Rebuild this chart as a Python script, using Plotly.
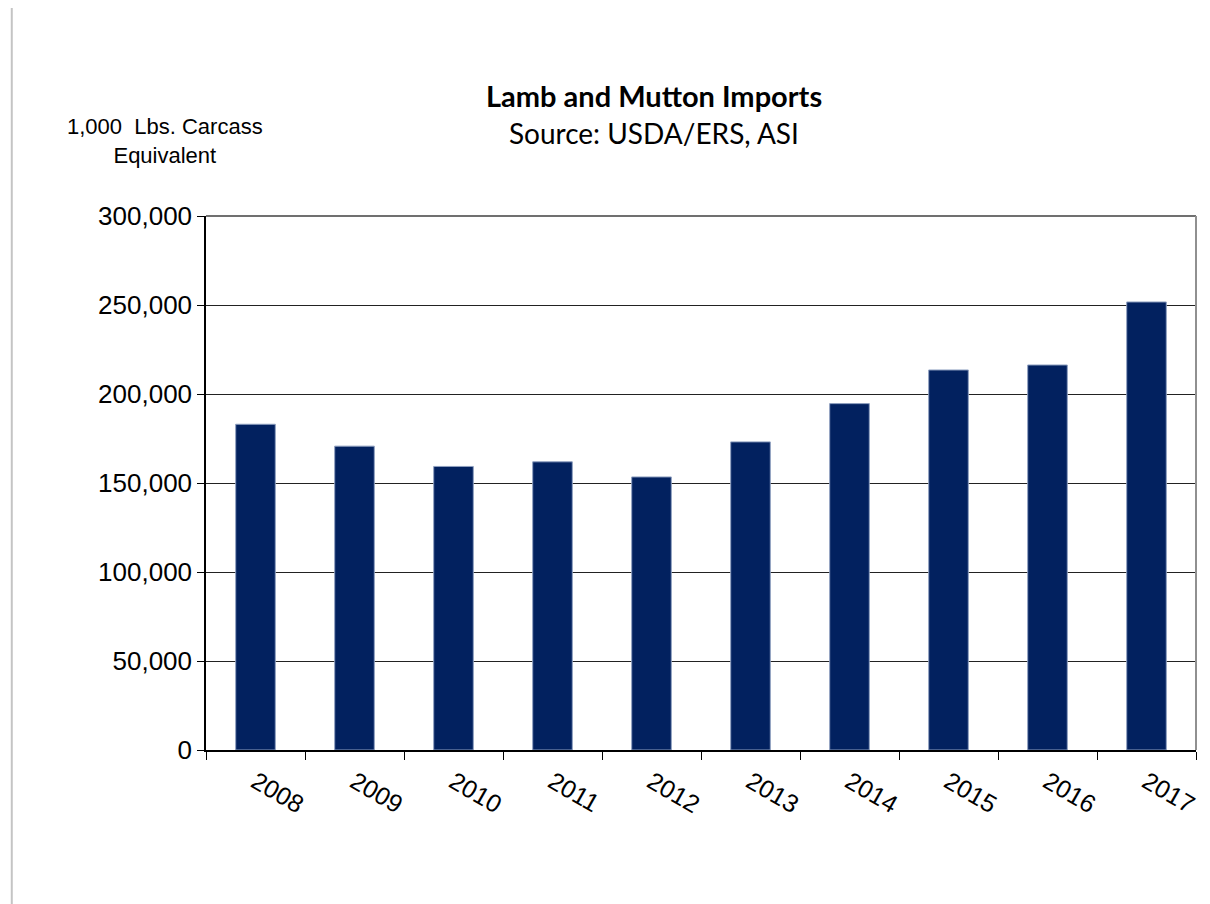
import plotly.graph_objects as go

years = ["2008", "2009", "2010", "2011", "2012", "2013", "2014", "2015", "2016", "2017"]
imports = [183000, 170700, 159300, 161900, 153400, 173100, 194600, 213500, 216300, 251700]
y_ticks = [0, 50000, 100000, 150000, 200000, 250000, 300000]

# page body has an 8px margin, so the figure is placed 8px in from the window edge
OFF = 8
W, H = 1210 - OFF, 904 - OFF
L, R, T, B = 206 - OFF, 10, 216 - OFF, 154
pw, ph = W - L - R, H - T - B


def px_x(x):
    # screen pixel -> paper coordinate
    return (x - OFF - L) / pw


def px_y(y):
    return (H - B - (y - OFF)) / ph


fig = go.Figure()
fig.add_trace(go.Bar(
    x=years, y=imports, width=0.4,
    marker=dict(color="#02215F", line=dict(color="#8FA0C0", width=1)),
))

arial = "Arial, Liberation Sans, sans-serif"
calibri = "Lato, Open Sans, sans-serif"
fig.update_layout(
    width=W, height=H,
    margin=dict(l=L, r=R, t=T, b=B),
    paper_bgcolor="white", plot_bgcolor="white",
    showlegend=False,
    font=dict(family=arial, color="#000000"),
)
fig.update_xaxes(
    type="category", range=[-0.5, 9.5],
    tickson="boundaries", ticks="outside", ticklen=8, tickcolor="#000",
    tickangle=30, tickfont=dict(size=25, family=arial), ticklabelstandoff=6,
    showline=True, linecolor="#000", linewidth=1.5, showgrid=False,
)
fig.update_yaxes(
    range=[0, 300000], tickvals=y_ticks, tickformat=",",
    ticks="outside", ticklen=7, tickcolor="#000",
    tickfont=dict(size=26, family=arial),
    showline=True, linecolor="#000", linewidth=1.5,
    showgrid=True, gridcolor="#222", gridwidth=1, zeroline=False,
)

# grey frame on top and right, thin rule at left edge of page
fig.add_shape(type="line", xref="paper", yref="paper", x0=0, x1=1, y0=1, y1=1,
              line=dict(color="#707070", width=2))
fig.add_shape(type="line", xref="paper", yref="paper", x0=1, x1=1, y0=0, y1=1,
              line=dict(color="#909090", width=2))
fig.add_shape(type="line", xref="paper", yref="paper",
              x0=px_x(11), x1=px_x(11), y0=px_y(8), y1=px_y(904),
              line=dict(color="#C4C4C4", width=2))

fig.add_annotation(
    x=px_x(656), y=px_y(96), xref="paper", yref="paper", showarrow=False,
    xanchor="center", yanchor="middle",
    text="<b>Lamb and Mutton Imports</b>",
    font=dict(size=29, family=calibri, color="#000"),
)
fig.add_annotation(
    x=px_x(656), y=px_y(133), xref="paper", yref="paper", showarrow=False,
    xanchor="center", yanchor="middle",
    text="Source: USDA/ERS, ASI",
    font=dict(size=28, family=calibri, color="#000"),
)
fig.add_annotation(
    x=px_x(165), y=px_y(141), xref="paper", yref="paper", showarrow=False,
    xanchor="center", yanchor="middle",
    text="1,000  Lbs. Carcass<br>Equivalent", align="center",
    font=dict(size=22, family=arial, color="#000"),
)

fig.write_html("out.html")
